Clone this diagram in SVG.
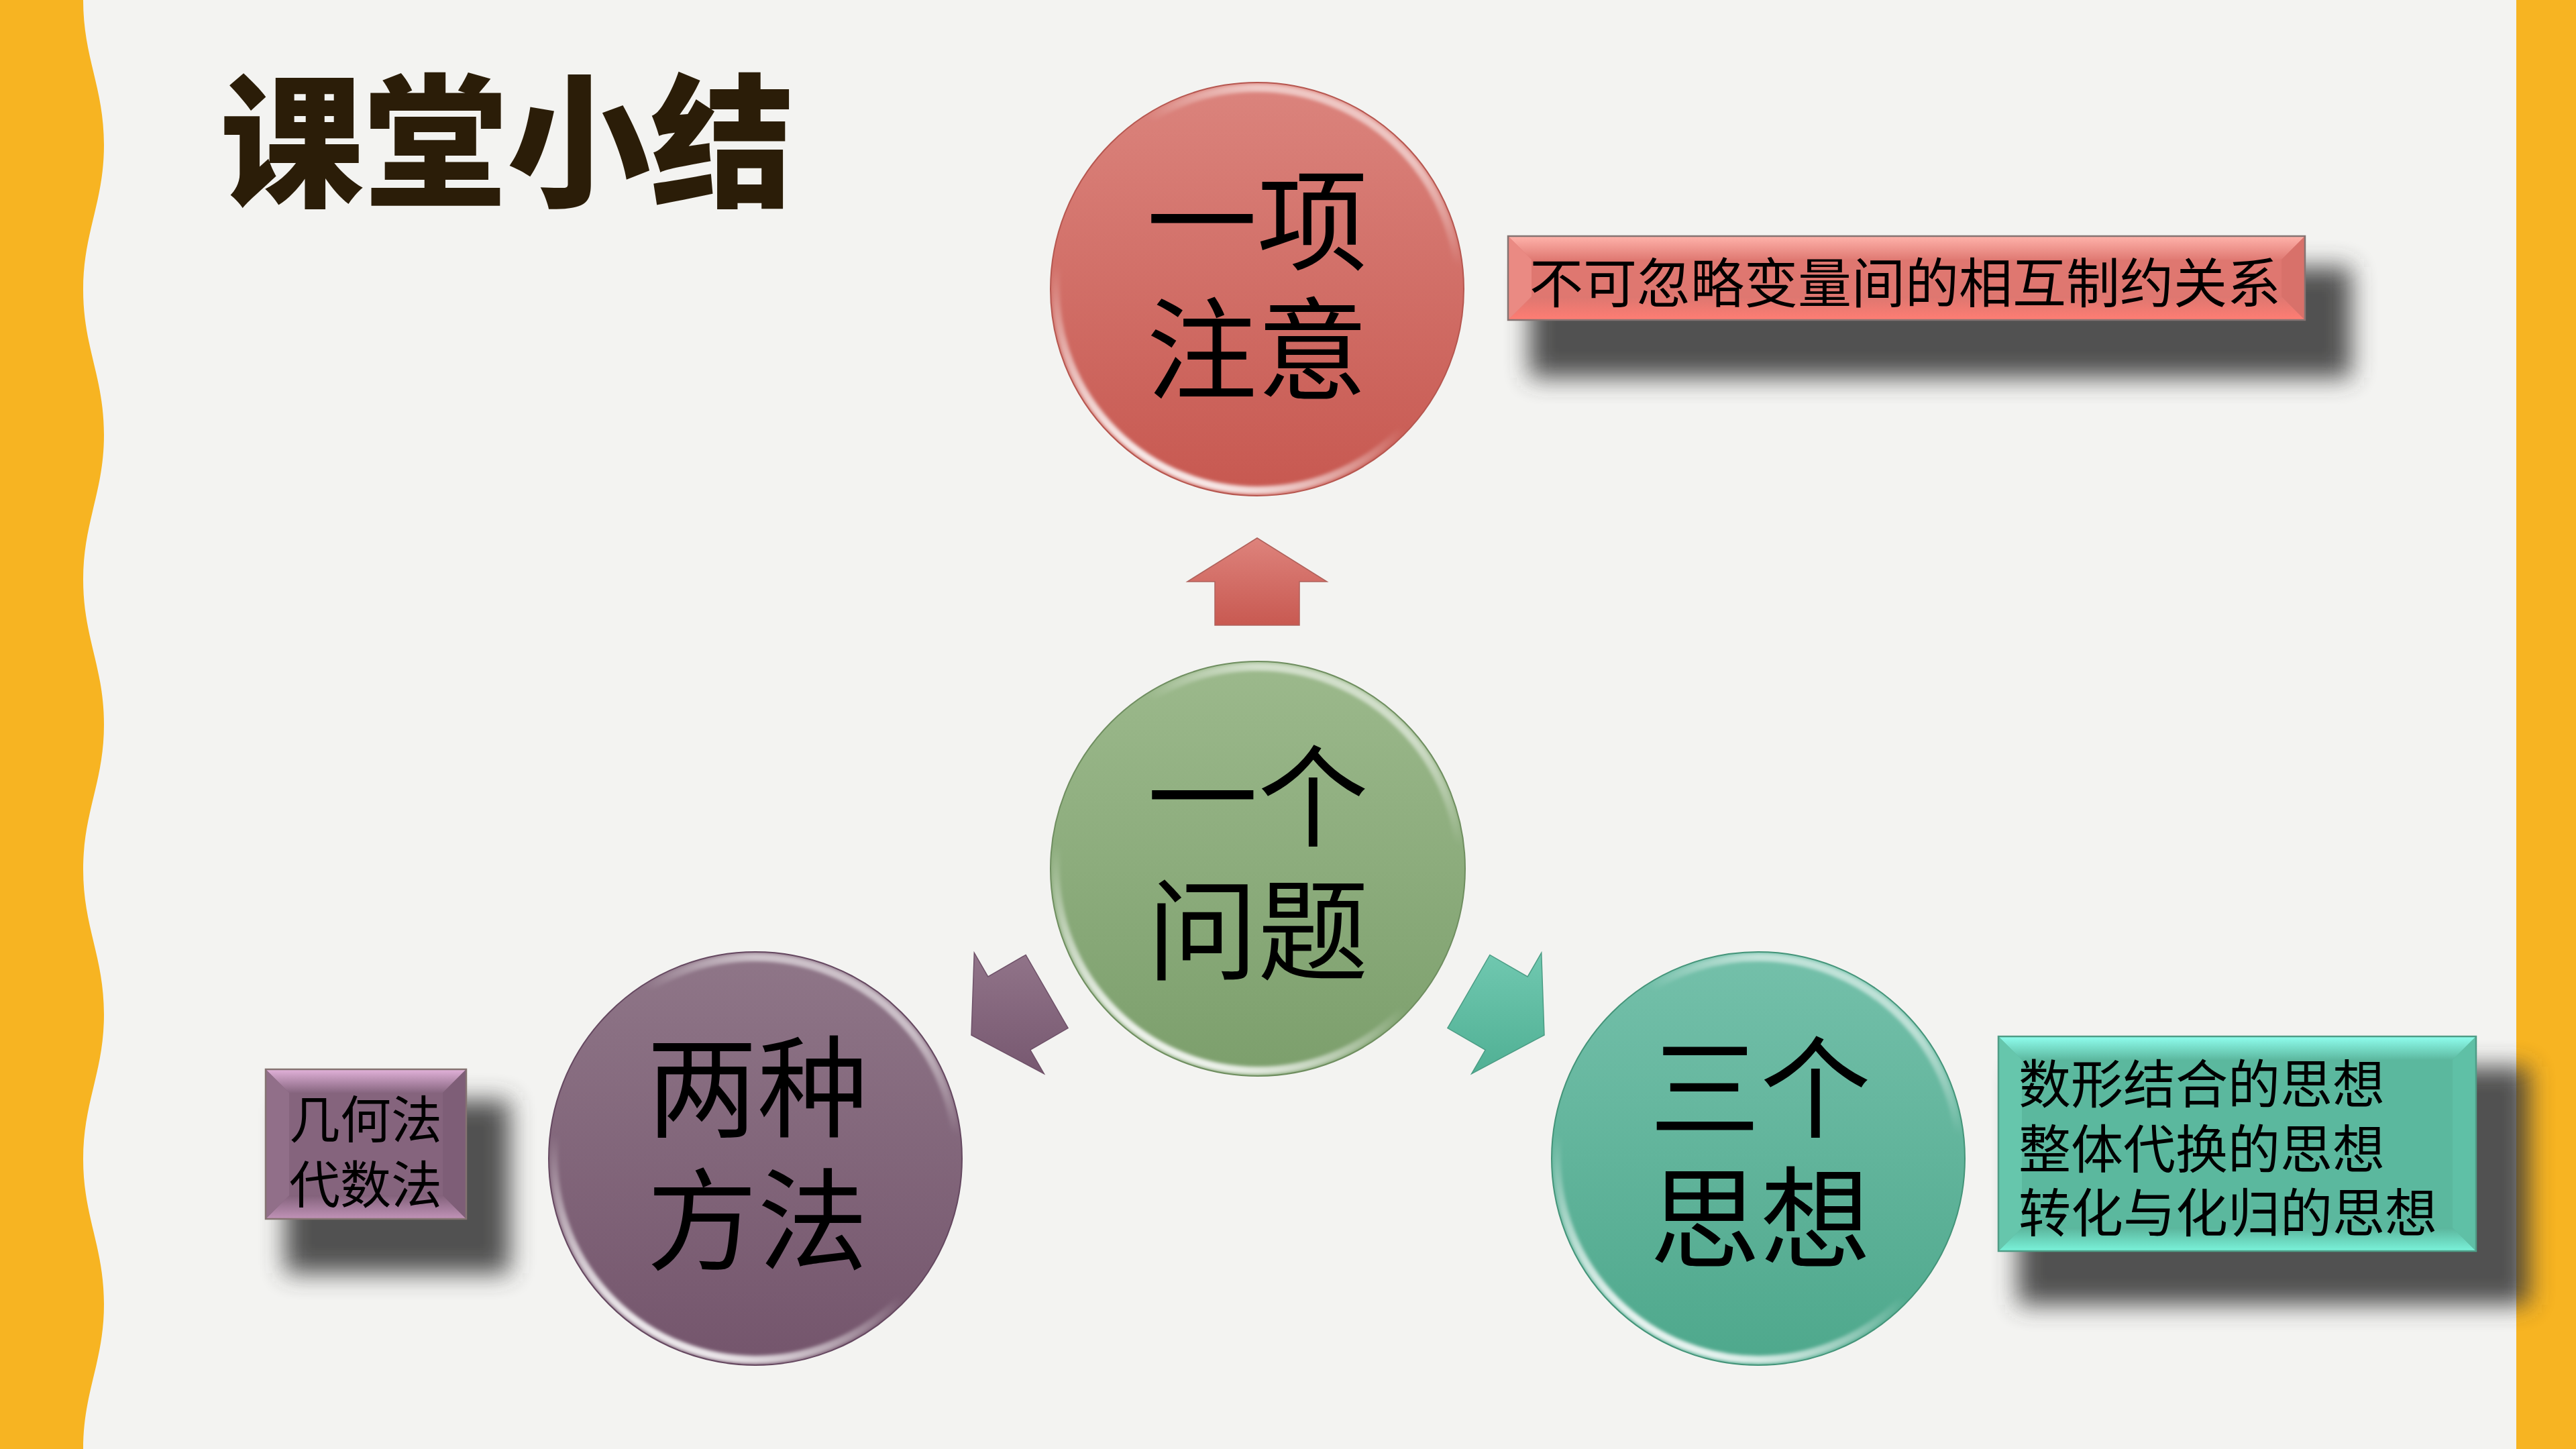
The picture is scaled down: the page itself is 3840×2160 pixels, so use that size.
<svg xmlns="http://www.w3.org/2000/svg" width="3840" height="2160" viewBox="0 0 3840 2160">
<defs>
<style>
.cjk{font-family:"Noto Sans CJK SC","Noto Sans",sans-serif;fill:#000}
.big{font-size:165px;text-anchor:middle}
.small{font-size:78px}
.title{font-size:214px;font-weight:900;fill:#2B1D08}
.rim{fill:none;stroke:url(#rim);stroke-width:12}
.edge{fill:none;stroke-width:2}
.boxline{fill:none;stroke:#857372;stroke-width:2.5}
</style>
<linearGradient id="gRed" x1="0" y1="0" x2="0" y2="1"><stop offset="0" stop-color="#DB847D"/><stop offset="1" stop-color="#C75850"/></linearGradient>
<linearGradient id="gGreen" x1="0" y1="0" x2="0" y2="1"><stop offset="0" stop-color="#9CB98C"/><stop offset="1" stop-color="#7C9F6C"/></linearGradient>
<linearGradient id="gPurple" x1="0" y1="0" x2="0" y2="1"><stop offset="0" stop-color="#8F7688"/><stop offset="1" stop-color="#74556C"/></linearGradient>
<linearGradient id="gTeal" x1="0" y1="0" x2="0" y2="1"><stop offset="0" stop-color="#74C0AA"/><stop offset="1" stop-color="#4EA88C"/></linearGradient>
<linearGradient id="rim" x1="0.1" y1="0.85" x2="0.5" y2="0"><stop offset="0" stop-color="#fff" stop-opacity="0.85"/><stop offset="0.35" stop-color="#fff" stop-opacity="0"/><stop offset="0.8" stop-color="#fff" stop-opacity="0"/><stop offset="1" stop-color="#fff" stop-opacity="0.55"/></linearGradient>
<linearGradient id="aRed" x1="0" y1="0" x2="0" y2="1"><stop offset="0" stop-color="#DE837C"/><stop offset="1" stop-color="#C85951"/></linearGradient>
<linearGradient id="aPurple" x1="0" y1="0" x2="0" y2="1"><stop offset="0" stop-color="#917489"/><stop offset="1" stop-color="#775870"/></linearGradient>
<linearGradient id="aTeal" x1="0" y1="0" x2="0" y2="1"><stop offset="0" stop-color="#70C8B0"/><stop offset="1" stop-color="#50B094"/></linearGradient>
<linearGradient id="topRed" x1="0" y1="0" x2="0" y2="1"><stop offset="0" stop-color="#FFB3AB"/><stop offset="1" stop-color="#E07A73"/></linearGradient>
<linearGradient id="botRed" x1="0" y1="0" x2="0" y2="1"><stop offset="0" stop-color="#DD7770"/><stop offset="1" stop-color="#FF7D73"/></linearGradient>
<linearGradient id="topTeal" x1="0" y1="0" x2="0" y2="1"><stop offset="0" stop-color="#90FFEF"/><stop offset="1" stop-color="#5CB89F"/></linearGradient>
<linearGradient id="botTeal" x1="0" y1="0" x2="0" y2="1"><stop offset="0" stop-color="#5BB59C"/><stop offset="1" stop-color="#7AF3DA"/></linearGradient>
<linearGradient id="topPurple" x1="0" y1="0" x2="0" y2="1"><stop offset="0" stop-color="#E2B2DA"/><stop offset="1" stop-color="#876680"/></linearGradient>
<linearGradient id="botPurple" x1="0" y1="0" x2="0" y2="1"><stop offset="0" stop-color="#83627B"/><stop offset="1" stop-color="#C193B8"/></linearGradient>
<filter id="shadow" x="-20%" y="-50%" width="140%" height="200%"><feGaussianBlur stdDeviation="18"/></filter>
<filter id="soft" x="-5%" y="-5%" width="110%" height="110%"><feGaussianBlur stdDeviation="2.5"/></filter>
</defs>
<rect x="0" y="0" width="3840" height="2160" fill="#F3F3F1"/>
<path d="M0,0 H124 C124,86 155,130 155,216 S124,346 124,432 S155,562 155,648 S124,778 124,864 S155,994 155,1080 S124,1210 124,1296 S155,1426 155,1512 S124,1642 124,1728 S155,1858 155,1944 S124,2074 124,2160 H0 Z" fill="#F7B422"/>
<rect x="3751" y="0" width="89" height="2160" fill="#F7B422"/>
<text class="cjk title" x="328" y="291">课堂小结</text>

<g id="connectors">
<polygon points="1874,802 1978,867 1937,867 1937,932 1811,932 1811,867 1770,867" fill="url(#aRed)" stroke="#B0625C" stroke-width="1.5"/>
<polygon points="1448,1543 1452.3,1420.4 1472.8,1455.9 1529.1,1423.4 1592.1,1532.6 1535.8,1565.1 1556.3,1600.6" fill="url(#aPurple)" stroke="#6E5068" stroke-width="1.5"/>
<polygon points="2302,1543 2297.7,1420.4 2277.2,1455.9 2220.9,1423.4 2157.9,1532.6 2214.2,1565.1 2193.7,1600.6" fill="url(#aTeal)" stroke="#4B9C84" stroke-width="1.5"/>
</g>

<g id="node-yixiang">
<circle cx="1874" cy="431" r="308" fill="url(#gRed)"/>
<circle class="rim" cx="1874" cy="431" r="300" filter="url(#soft)"/>
<circle class="edge" cx="1874" cy="431" r="308" stroke="#B65750"/>
<text class="cjk big"><tspan x="1874" y="390">一项</tspan><tspan x="1874" y="582">注意</tspan></text>
</g>

<g id="node-yige">
<circle cx="1875" cy="1295" r="309" fill="url(#gGreen)"/>
<circle class="rim" cx="1875" cy="1295" r="301" filter="url(#soft)"/>
<circle class="edge" cx="1875" cy="1295" r="309" stroke="#6F8E60"/>
<text class="cjk big"><tspan x="1875" y="1249">一个</tspan><tspan x="1875" y="1448">问题</tspan></text>
</g>

<g id="node-liangzhong">
<circle cx="1126" cy="1727" r="308" fill="url(#gPurple)"/>
<circle class="rim" cx="1126" cy="1727" r="300" filter="url(#soft)"/>
<circle class="edge" cx="1126" cy="1727" r="308" stroke="#654860"/>
<text class="cjk big"><tspan x="1129" y="1682">两种</tspan><tspan x="1129" y="1880">方法</tspan></text>
</g>

<g id="node-sange">
<circle cx="2621" cy="1727" r="308" fill="url(#gTeal)"/>
<circle class="rim" cx="2621" cy="1727" r="300" filter="url(#soft)"/>
<circle class="edge" cx="2621" cy="1727" r="308" stroke="#449479"/>
<text class="cjk big"><tspan x="2624" y="1683">三个</tspan><tspan x="2624" y="1877">思想</tspan></text>
</g>

<g id="note-red">
<rect x="2280" y="398" width="1225" height="165" fill="#3A3A3A" opacity="0.88" filter="url(#shadow)"/>
<rect x="2248" y="352" width="1188" height="125" fill="#DF7770"/>
<polygon points="2248,352 3436,352 3401,387 2283,387" fill="url(#topRed)"/>
<polygon points="2248,477 3436,477 3401,442 2283,442" fill="url(#botRed)"/>
<polygon points="2248,352 2283,387 2283,442 2248,477" fill="#EA8A83"/>
<polygon points="3436,352 3401,387 3401,442 3436,477" fill="#D8716A"/>
<rect class="boxline" x="2248" y="352" width="1188" height="125"/>
<text class="cjk" style="font-size:80px;text-anchor:middle" x="2840" y="451">不可忽略变量间的相互制约关系</text>
</g>

<g id="note-purple">
<rect x="425" y="1640" width="335" height="258" fill="#3A3A3A" opacity="0.88" filter="url(#shadow)"/>
<rect x="396" y="1594" width="299" height="223" fill="#85647D"/>
<polygon points="396,1594 695,1594 660,1629 431,1629" fill="url(#topPurple)"/>
<polygon points="396,1817 695,1817 660,1782 431,1782" fill="url(#botPurple)"/>
<polygon points="396,1594 431,1629 431,1782 396,1817" fill="#916F89"/>
<polygon points="695,1594 660,1629 660,1782 695,1817" fill="#7E5E77"/>
<rect class="boxline" x="396" y="1594" width="299" height="223"/>
<text class="cjk" style="font-size:76px;text-anchor:middle"><tspan x="545" y="1697">几何法</tspan><tspan x="545" y="1794">代数法</tspan></text>
</g>

<g id="note-teal">
<rect x="3008" y="1590" width="762" height="355" fill="#3A3A3A" opacity="0.88" filter="url(#shadow)"/>
<rect x="2979" y="1545" width="712" height="320" fill="#5BB89E"/>
<polygon points="2979,1545 3691,1545 3656,1580 3014,1580" fill="url(#topTeal)"/>
<polygon points="2979,1865 3691,1865 3656,1830 3014,1830" fill="url(#botTeal)"/>
<polygon points="2979,1545 3014,1580 3014,1830 2979,1865" fill="#66C6AC"/>
<polygon points="3691,1545 3656,1580 3656,1830 3691,1865" fill="#5FC0A6"/>
<rect class="boxline" x="2979" y="1545" width="712" height="320" style="stroke:#4F9C86"/>
<text class="cjk small"><tspan x="3009" y="1645">数形结合的思想</tspan><tspan x="3009" y="1742">整体代换的思想</tspan><tspan x="3009" y="1837">转化与化归的思想</tspan></text>
</g>
</svg>
